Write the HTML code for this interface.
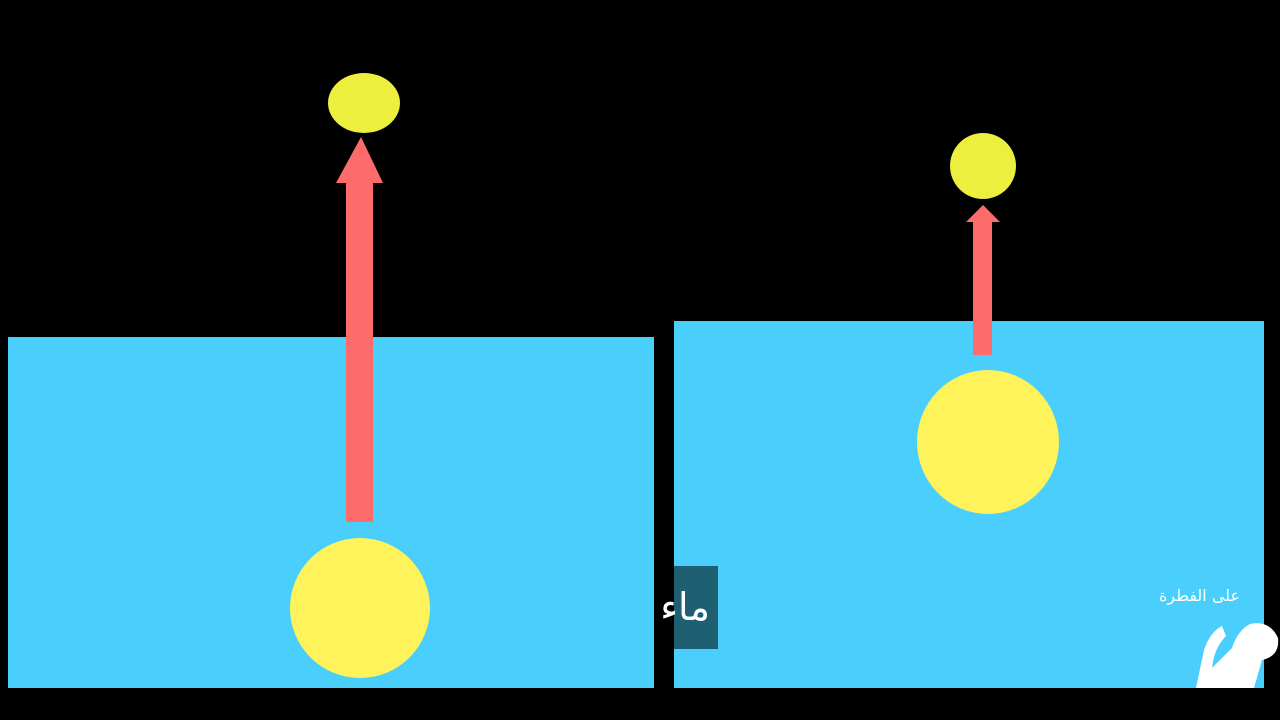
<!DOCTYPE html>
<html><head><meta charset="utf-8"><style>
html,body{margin:0;padding:0;background:#000;width:1280px;height:720px;overflow:hidden}
</style></head><body>
<svg width="1280" height="720" xmlns="http://www.w3.org/2000/svg" style="position:absolute;left:0;top:0">
<rect width="1280" height="720" fill="#000"/>
<rect x="8" y="337" width="646" height="351" fill="#4acffd"/>
<rect x="674" y="321" width="590" height="367" fill="#4acffd"/>
<!-- left -->
<ellipse cx="364" cy="103" rx="36" ry="30" fill="#ecef3e"/>
<polygon points="361,137 383,183 373,183 373,522 346,522 346,183 336,183" fill="#fd6b6b"/>
<circle cx="360" cy="608" r="70" fill="#fef35a"/>
<!-- right -->
<circle cx="983" cy="166" r="33" fill="#ecef3e"/>
<polygon points="983,205 1000,222 992,222 992,355 973,355 973,222 966,222" fill="#fd6b6b"/>
<ellipse cx="988" cy="442" rx="71" ry="72" fill="#fef35a"/>
<!-- caption box -->
<rect x="674" y="566" width="44" height="83" fill="#1f5f72"/>
<text x="710" y="620" text-anchor="end" font-family="'DejaVu Sans','Noto Sans CJK SC',sans-serif" font-size="38" fill="#fff">ماء</text>
<text x="1240" y="601" text-anchor="end" font-family="'DejaVu Sans','Noto Sans CJK SC',sans-serif" font-size="16" fill="#fff">على الفطرة</text>
<!-- silhouette -->
<path d="M1196,688 L1204,650 Q1210,632 1222,626 L1226,636 Q1214,648 1212,668 L1232,648 Q1238,630 1250,624 Q1270,620 1278,638 Q1280,656 1262,660 L1254,688 Z" fill="#fff"/>
</svg>
</body></html>
